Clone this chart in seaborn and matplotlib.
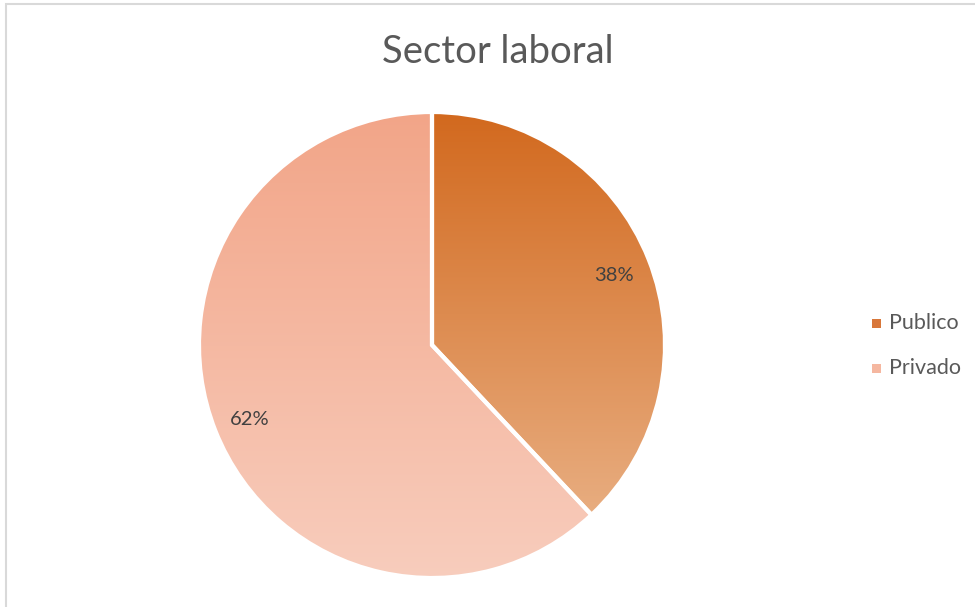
import numpy as np
import matplotlib
matplotlib.use("Agg")
import matplotlib.pyplot as plt
import seaborn as sns
from matplotlib.colors import LinearSegmentedColormap
from matplotlib.patches import Rectangle

# data
labels = ["Publico", "Privado"]
values = [38, 62]
# gradient colours (top, bottom) per slice
top_colors = ["#D2691E", "#F2A588"]
bottom_colors = ["#E8AD80", "#F8CDBD"]
legend_colors = ["#D8773A", "#F5B7A0"]

sns.set_theme(style="white")
plt.rcParams["font.family"] = ["Lato", "DejaVu Sans"]

fig = plt.figure(figsize=(9.75, 6.07), dpi=100)
W, H = 975, 607
cx, cy, r = 432, 345, 233
ax = fig.add_axes([(cx - r) / W, (H - cy - r) / H, 2 * r / W, 2 * r / H])

wedges, _ = ax.pie(values, startangle=90, counterclock=False,
                   colors=top_colors,
                   wedgeprops=dict(edgecolor="white", linewidth=3))
ax.set_aspect("equal")
ax.axis("off")

# gradient fill for every wedge
for w, c0, c1 in zip(wedges, top_colors, bottom_colors):
    verts = w.get_path().vertices
    ymin, ymax = verts[:, 1].min(), verts[:, 1].max()
    cmap = LinearSegmentedColormap.from_list("g", [c1, c0])
    grad = np.linspace(0, 1, 256).reshape(-1, 1)
    im = ax.imshow(grad, cmap=cmap, origin="lower", aspect="auto",
                   extent=(-1, 1, ymin, ymax), zorder=w.get_zorder())
    im.set_clip_path(w)
    w.set_facecolor("none")
    w.set_zorder(w.get_zorder() + 1)
ax.set_xlim(-1, 1)
ax.set_ylim(-1, 1)

# percentage labels
angle = 90
for w, v in zip(wedges, values):
    mid = np.deg2rad(angle - v / 100 * 360 / 2)
    angle -= v / 100 * 360
    ax.text(0.84 * np.cos(mid), 0.84 * np.sin(mid) - 0.01, f"{v}%",
            ha="center", va="center", fontsize=14.5, color="#404040", zorder=5)

fig.text(498 / W, 1 - 52 / H, "Sector laboral", ha="center", va="center",
         fontsize=27.5, color="#595959")

# legend
for i, (lab, col) in enumerate(zip(labels, legend_colors)):
    y = 1 - (323 + i * 45) / H
    fig.patches.append(Rectangle((872 / W, y - 4.5 / H), 9 / W, 9 / H,
                                 transform=fig.transFigure, facecolor=col,
                                 edgecolor="none"))
    fig.text(889 / W, y, lab, ha="left", va="center", fontsize=15.5,
             color="#595959")

# chart frame
fig.patches.append(Rectangle((6 / W, -0.01), 1.05, 1 - 4 / H + 0.01,
                             transform=fig.transFigure, facecolor="none",
                             edgecolor="#D9D9D9", linewidth=1.5))

fig.savefig("out.png", dpi=100)
